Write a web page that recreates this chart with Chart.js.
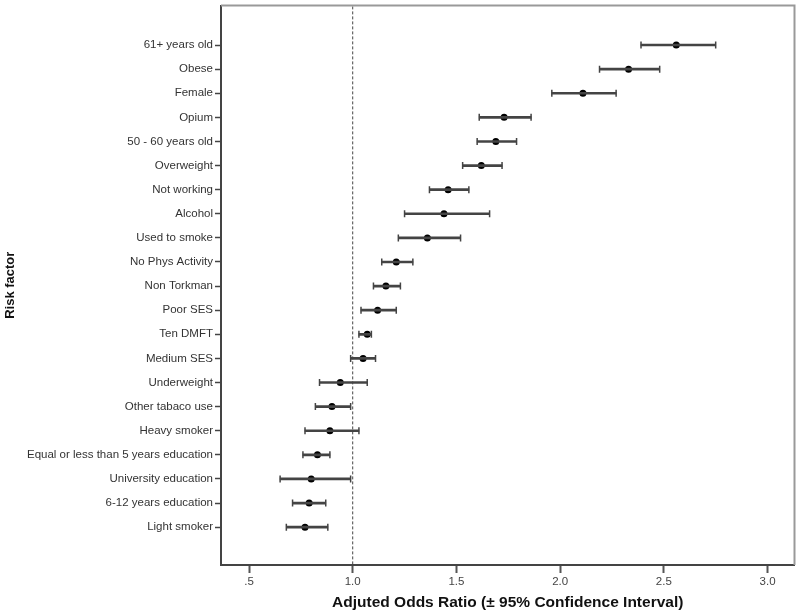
<!DOCTYPE html>
<html>
<head>
<meta charset="utf-8">
<script src="https://cdn.jsdelivr.net/npm/chart.js@4.4.1/dist/chart.umd.min.js"></script>
<style>
  html, body { margin: 0; padding: 0; background: #fff; }
  #wrap { width: 800px; height: 614px; }
</style>
</head>
<body>
<div id="wrap"><canvas id="chart" width="800" height="614"></canvas></div>
<script>
// Risk factors, top to bottom
var factors = ['61+ years old', 'Obese', 'Female', 'Opium', '50 - 60 years old', 'Overweight',
  'Not working', 'Alcohol', 'Used to smoke', 'No Phys Activity', 'Non Torkman', 'Poor SES',
  'Ten DMFT', 'Medium SES', 'Underweight', 'Other tabaco use', 'Heavy smoker',
  'Equal or less than 5 years education', 'University education', '6-12 years education', 'Light smoker'];
// adjusted odds ratios and 95% CI bounds
var oddsRatio = [2.56, 2.33, 2.11, 1.73, 1.69, 1.62, 1.46, 1.44, 1.36, 1.21, 1.16, 1.12,
  1.07, 1.05, 0.94, 0.90, 0.89, 0.83, 0.80, 0.79, 0.77];
var ciLow = [2.39, 2.19, 1.96, 1.61, 1.60, 1.53, 1.37, 1.25, 1.22, 1.14, 1.10, 1.04,
  1.03, 0.99, 0.84, 0.82, 0.77, 0.76, 0.65, 0.71, 0.68];
var ciHigh = [2.75, 2.48, 2.27, 1.86, 1.79, 1.72, 1.56, 1.66, 1.52, 1.29, 1.23, 1.21,
  1.09, 1.11, 1.07, 0.99, 1.03, 0.89, 0.99, 0.87, 0.88];
var xTicks = [0.5, 1.0, 1.5, 2.0, 2.5, 3.0];
var xTickLabels = ['.5', '1.0', '1.5', '2.0', '2.5', '3.0'];
var refLine = 1.0;

var yMin = -1.64, yMax = 21.57;
var tickFont = { family: '"Liberation Sans", Arial, sans-serif', size: 11.5 };
var xTitleFont = { family: '"Liberation Sans", Arial, sans-serif', size: 15.5, weight: 'bold' };
var yTitleFont = { family: '"Liberation Sans", Arial, sans-serif', size: 13, weight: 'bold' };

function rows(fn) { return factors.map(function(f, i) { return fn(i); }); }

// light grey top and right frame lines
var frame = {
  id: 'frame',
  afterDraw: function(chart) {
    var a = chart.chartArea, ctx = chart.ctx;
    ctx.save();
    ctx.strokeStyle = '#999';
    ctx.lineWidth = 2;
    ctx.beginPath();
    ctx.moveTo(a.left, a.top);
    ctx.lineTo(a.right, a.top);
    ctx.lineTo(a.right, a.bottom);
    ctx.stroke();
    ctx.restore();
  }
};

new Chart(document.getElementById('chart'), {
  data: {
    datasets: [
      {
        type: 'line',
        data: [{ x: refLine, y: yMin - 1 }, { x: refLine, y: yMax + 1 }],
        borderColor: '#444',
        borderWidth: 1,
        borderDash: [3, 2],
        pointRadius: 0
      },
      {
        type: 'bar',
        data: rows(function(i) { return { x: [ciLow[i], ciHigh[i]], y: i }; }),
        backgroundColor: '#444',
        borderWidth: 0,
        barThickness: 2
      },
      {
        type: 'scatter',
        data: rows(function(i) { return { x: ciLow[i], y: i }; })
          .concat(rows(function(i) { return { x: ciHigh[i], y: i }; })),
        pointStyle: 'line',
        rotation: 90,
        radius: 3.5,
        borderColor: '#444',
        borderWidth: 1.5
      },
      {
        type: 'scatter',
        data: rows(function(i) { return { x: oddsRatio[i], y: i }; }),
        pointStyle: 'circle',
        radius: 3.5,
        backgroundColor: '#000',
        borderColor: '#000',
        borderWidth: 0
      }
    ]
  },
  options: {
    indexAxis: 'y',
    responsive: false,
    animation: false,
    layout: { padding: { top: 3, right: 5, left: 0, bottom: 0 } },
    plugins: { legend: { display: false }, tooltip: { enabled: false } },
    scales: {
      x: {
        type: 'linear',
        min: 0.365,
        max: 3.13,
        offset: false,
        afterBuildTicks: function(axis) { axis.ticks = xTicks.map(function(v) { return { value: v }; }); },
        afterFit: function(axis) { axis.height = 49; axis.paddingLeft = 0; axis.paddingRight = 0; },
        ticks: {
          callback: function(v) { return xTickLabels[xTicks.indexOf(v)]; },
          color: '#444', font: tickFont, padding: 2, maxRotation: 0
        },
        grid: { offset: false, drawOnChartArea: false, drawTicks: true, tickLength: 8, color: '#555', tickWidth: 2 },
        border: { color: '#444', width: 2 },
        title: { display: true, text: 'Adjuted Odds Ratio (\u00b1 95% Confidence Interval)',
          color: '#111', font: xTitleFont, padding: { top: 0, bottom: 2 } }
      },
      y: {
        type: 'linear',
        reverse: true,
        min: yMin,
        max: yMax,
        offset: false,
        afterBuildTicks: function(axis) { axis.ticks = factors.map(function(f, i) { return { value: i }; }); },
        afterFit: function(axis) { axis.width = 221; axis.paddingTop = 0; axis.paddingBottom = 0; },
        ticks: {
          callback: function(v) { return factors[v]; },
          color: '#333', font: tickFont, padding: 2, autoSkip: false
        },
        grid: { offset: false, drawOnChartArea: false, drawTicks: true, tickLength: 6, color: '#444', tickWidth: 1.5 },
        border: { color: '#444', width: 2 },
        title: { display: true, text: 'Risk factor', color: '#111', font: yTitleFont,
          padding: { top: 3, bottom: 0 } }
      }
    }
  },
  plugins: [frame]
});
</script>
</body>
</html>
